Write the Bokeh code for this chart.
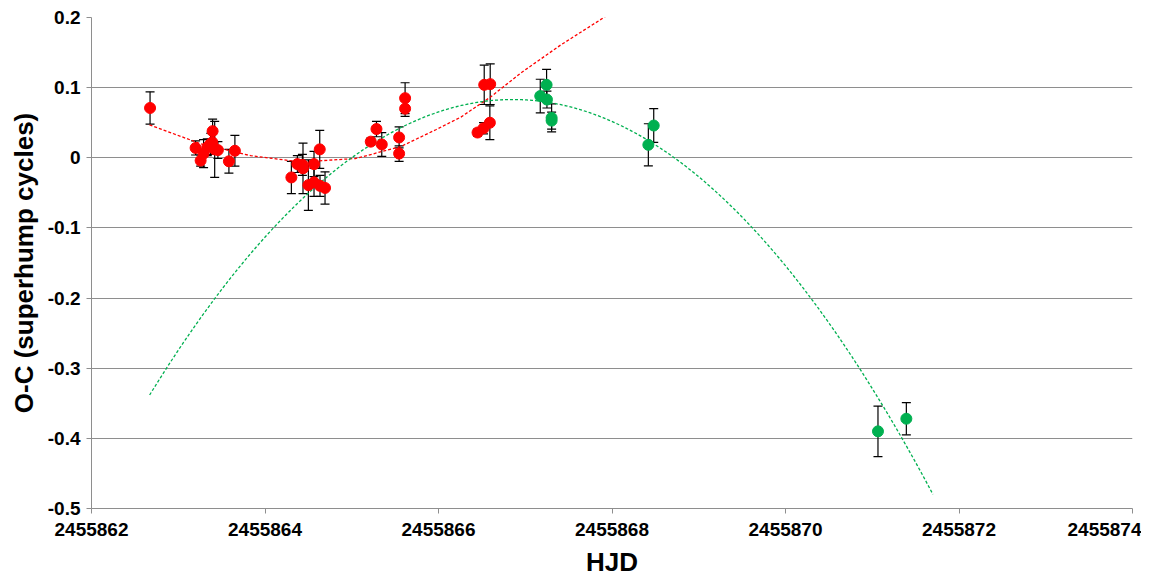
import numpy as np
from bokeh.plotting import figure
from bokeh.models import ColumnDataSource, Whisker, TeeHead, FixedTicker, CustomJSTickFormatter
from bokeh.embed import file_html
from bokeh.resources import INLINE

# Red series (HJD, O-C, error)
red_hjd = [2455862.675, 2455863.200, 2455863.258, 2455863.292, 2455863.335, 2455863.373,
           2455863.393, 2455863.396, 2455863.420, 2455863.457, 2455863.584, 2455863.653,
           2455864.304, 2455864.373, 2455864.431, 2455864.438, 2455864.500, 2455864.565,
           2455864.565, 2455864.631, 2455864.634, 2455864.692, 2455865.219, 2455865.285,
           2455865.346, 2455865.546, 2455865.546, 2455865.615, 2455865.615, 2455866.450,
           2455866.519, 2455866.527, 2455866.592, 2455866.596]
red_oc = [0.071, 0.014, -0.004, 0.006, 0.015, 0.020,
          0.022, 0.038, 0.012, 0.011, -0.005, 0.010,
          -0.028, -0.009, -0.010, -0.015, -0.039, -0.009,
          -0.035, 0.012, -0.040, -0.043, 0.023, 0.041,
          0.019, 0.029, 0.006, 0.085, 0.070, 0.036,
          0.042, 0.104, 0.050, 0.105]
red_err = [0.023, 0.010, 0.008, 0.020, 0.012, 0.015,
           0.012, 0.017, 0.040, 0.012, 0.017, 0.022,
           0.023, 0.012, 0.015, 0.036, 0.036, 0.018,
           0.020, 0.027, 0.015, 0.023, 0.005, 0.011,
           0.017, 0.015, 0.011, 0.022, 0.011, 0.005,
           0.008, 0.028, 0.024, 0.029]

# Red trend curve
red_fit_hjd = [2455862.669, 2455863.258, 2455863.835, 2455864.411, 2455865.046, 2455865.565,
               2455865.969, 2455866.258, 2455866.604, 2455866.950, 2455867.411, 2455867.907,
               2455868.050]
red_fit_oc = [0.047, 0.020, 0.003, -0.006, -0.001, 0.016,
              0.040, 0.058, 0.087, 0.121, 0.161, 0.200,
              0.211]

# Green series
green_hjd = [2455867.173, 2455867.246, 2455867.250, 2455867.304, 2455867.304,
             2455868.419, 2455868.481, 2455871.066, 2455871.393]
green_oc = [0.088, 0.104, 0.083, 0.057, 0.053, 0.0185, 0.046, -0.390, -0.372]
green_err = [0.024, 0.022, 0.012, 0.020, 0.012, 0.030, 0.024, 0.036, 0.023]

x_ticks = [2455862, 2455864, 2455866, 2455868, 2455870, 2455872, 2455874]
y_ticks = [-0.5, -0.4, -0.3, -0.2, -0.1, 0.0, 0.1, 0.2]

T0 = 2455862.0
green_fit_start, green_fit_end = 2455862.67, 2455871.70

RED = "#FF0000"
GREEN = "#00B050"
FONT = "Liberation Sans"

p = figure(width=1141, height=579, x_range=(2455862, 2455874), y_range=(-0.5, 0.2),
           output_backend="svg", toolbar_location=None,
           min_border_left=91, min_border_right=9, min_border_top=17, min_border_bottom=71)
p.outline_line_color = None
p.background_fill_color = "white"
p.xgrid.grid_line_color = None
p.ygrid.grid_line_color = "#8E8E8E"
p.ygrid.grid_line_width = 1

# Trend curves
p.line(red_fit_hjd, red_fit_oc, line_color=RED, line_width=1.3, line_dash="3 2")
tt = np.linspace(green_fit_start - T0, green_fit_end - T0, 300)
cg = np.polyfit(np.array(green_hjd) - T0, np.array(green_oc), 2)
p.line(tt + T0, np.polyval(cg, tt), line_color=GREEN, line_width=1.3, line_dash="3 2")

for hjd, oc, err, col in [(red_hjd, red_oc, red_err, RED), (green_hjd, green_oc, green_err, GREEN)]:
    src = ColumnDataSource(dict(x=hjd, y=oc,
                                lo=[a - b for a, b in zip(oc, err)],
                                hi=[a + b for a, b in zip(oc, err)]))
    p.scatter("x", "y", source=src, size=11, fill_color=col, line_color=col)
    w = Whisker(source=src, base="x", upper="hi", lower="lo", dimension="height",
                line_color="black", line_width=1.2,
                upper_head=TeeHead(size=9, line_color="black", line_width=1.2),
                lower_head=TeeHead(size=9, line_color="black", line_width=1.2))
    p.add_layout(w)

p.xaxis.ticker = FixedTicker(ticks=x_ticks)
p.yaxis.ticker = FixedTicker(ticks=y_ticks)
p.xaxis.formatter = CustomJSTickFormatter(code="return tick.toFixed(0);")
p.yaxis.formatter = CustomJSTickFormatter(code="return (Math.round(tick*10)/10).toString();")

for ax in (p.xaxis, p.yaxis):
    ax.axis_line_color = "#8E8E8E"
    ax.major_tick_line_color = "#8E8E8E"
    ax.major_tick_in = 0
    ax.major_tick_out = 5
    ax.minor_tick_line_color = None
    ax.major_label_text_font = FONT
    ax.major_label_text_font_style = "bold"
    ax.major_label_text_font_size = "19px"
    ax.major_label_text_color = "black"
    ax.axis_label_text_font = FONT
    ax.axis_label_text_font_style = "bold"
    ax.axis_label_text_font_size = "26px"
    ax.axis_label_text_color = "black"

p.xaxis.axis_label = "HJD"
p.yaxis.axis_label = "O-C (superhump cycles)"
p.xaxis.major_label_standoff = 9
p.yaxis.major_label_standoff = 6
p.xaxis.axis_label_standoff = 8
p.yaxis.axis_label_standoff = 6

open("out.html", "w").write(file_html(p, INLINE))
